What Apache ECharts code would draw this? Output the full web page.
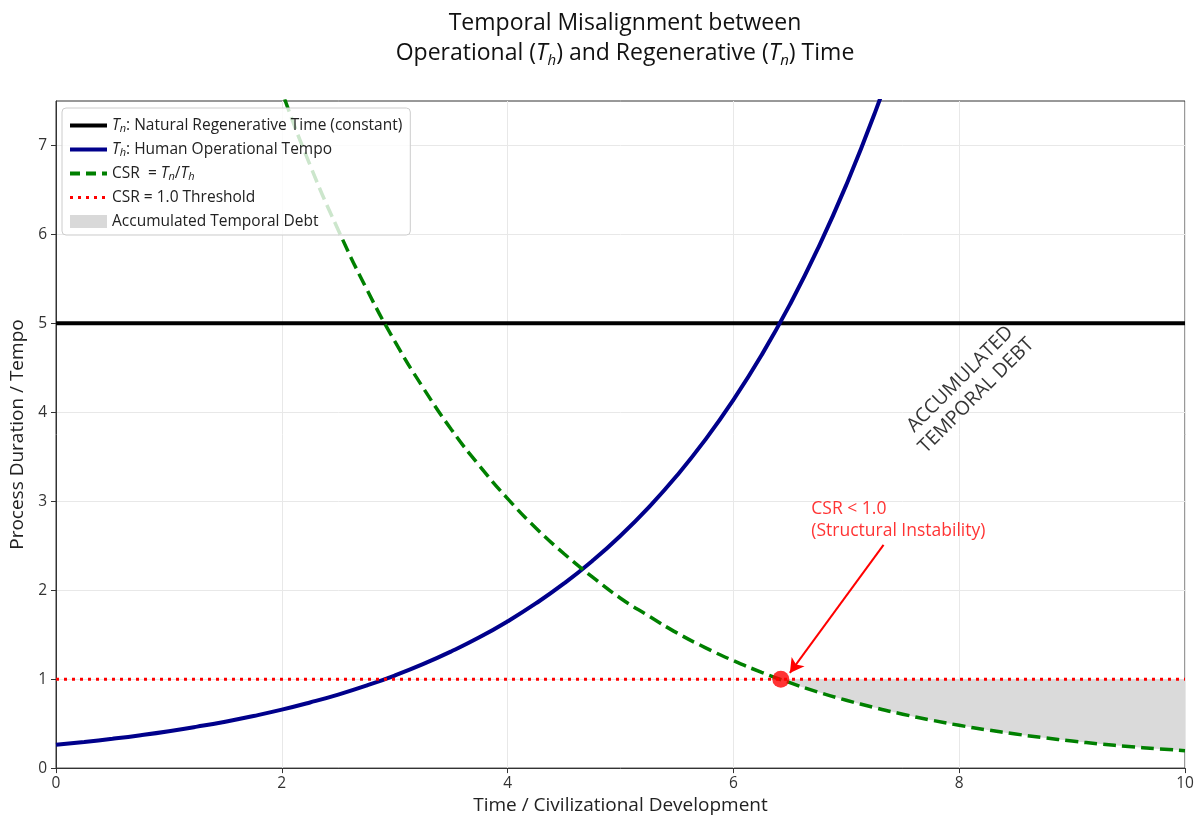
<!DOCTYPE html>
<html>
<head>
<meta charset="utf-8">
<script src="https://cdn.jsdelivr.net/npm/echarts@6/dist/echarts.min.js"></script>
<style>html,body{margin:0;padding:0;background:#fff}#c{width:1198px;height:820px}</style>
</head>
<body>
<div id="c"></div>
<script>
// ---- data ----
const tnValue = 5.0;
const thresholdValue = 1.0;
const xRange = [0, 10];
const thX = [0, 0.25, 0.5, 0.75, 1, 1.25, 1.5, 1.75, 2, 2.25, 2.5, 2.75, 3, 3.25, 3.5, 3.75, 4, 4.25, 4.5, 4.75, 5, 5.25, 5.5, 5.75, 6, 6.25, 6.5, 6.75, 7, 7.25, 7.5, 7.75];
const thValues = [0.262, 0.294, 0.330, 0.370, 0.415, 0.466, 0.522, 0.586, 0.657, 0.738, 0.827, 0.928, 1.041, 1.168, 1.311, 1.470, 1.650, 1.851, 2.076, 2.329, 2.613, 2.932, 3.289, 3.690, 4.140, 4.644, 5.210, 5.845, 6.557, 7.356, 8.253, 9.26];
const csrX = [1.75, 2, 2.25, 2.5, 2.75, 3, 3.25, 3.5, 3.75, 4, 4.25, 4.5, 4.75, 5, 5.25, 5.5, 5.75, 6, 6.25, 6.5, 6.75, 7, 7.25, 7.5, 7.75, 8, 8.25, 8.5, 8.75, 9, 9.25, 9.5, 9.75, 10];
const csrValues = [8.53, 7.61, 6.78, 6.05, 5.39, 4.80, 4.28, 3.81, 3.40, 3.03, 2.70, 2.41, 2.15, 1.91, 1.71, 1.52, 1.355, 1.208, 1.077, 0.960, 0.855, 0.763, 0.680, 0.606, 0.540, 0.481, 0.429, 0.383, 0.341, 0.304, 0.271, 0.243, 0.218, 0.196];
const crossPoint = [6.42, 1.0];
const xTicks = [0, 2, 4, 6, 8, 10];
const yTicks = [0, 1, 2, 3, 4, 5, 6, 7];
const arrowFrom = [7.33, 2.51];
const arrowTo = [6.50, 1.07];
const noteInstability = { pos: [6.69, 2.79], text: 'CSR < 1.0\n(Structural Instability)' };
const noteDebt = { pos: [8.08, 4.28], text: 'ACCUMULATED\nTEMPORAL DEBT' };

const FONT = '"Open Sans", Roboto, sans-serif';
const thData = thX.map((x, i) => [x, thValues[i]]);
const csrData = csrX.map((x, i) => [x, csrValues[i]]);
const debtData = [crossPoint].concat(csrData.filter(d => d[0] > crossPoint[0]));

const legendNames = {
  'Tn': '{i|T}{s|n}: Natural Regenerative Time (constant)',
  'Th': '{i|T}{s|h}: Human Operational Tempo',
  'CSR': 'CSR  = {i|T}{s|n}/{i|T}{s|h}',
  'Threshold': 'CSR = 1.0 Threshold',
  'Debt': 'Accumulated Temporal Debt'
};
const hideSym = { opacity: 0 };

const chart = echarts.init(document.getElementById('c'), null, { renderer: 'canvas' });
chart.setOption({
  animation: false,
  textStyle: { fontFamily: FONT },
  title: {
    text: 'Temporal Misalignment between\nOperational ({i|T}{s|h}) and Regenerative ({i|T}{s|n}) Time',
    left: 620, textAlign: 'center', top: 3,
    textStyle: {
      fontFamily: FONT, fontSize: 23, fontWeight: 'normal', color: '#111', lineHeight: 30,
      rich: {
        i: { fontFamily: FONT, fontSize: 23, fontStyle: 'italic', color: '#111', lineHeight: 30 },
        s: { fontFamily: FONT, fontSize: 15, fontStyle: 'italic', color: '#111', lineHeight: 18, verticalAlign: 'bottom' }
      }
    }
  },
  grid: { left: 56, right: 13, top: 101, bottom: 50, show: true, borderColor: '#333', borderWidth: 1, backgroundColor: 'transparent' },
  legend: {
    left: 62, top: 108, orient: 'vertical',
    data: [
      { name: 'Tn', itemStyle: hideSym, lineStyle: { color: '#000', width: 4, type: 'solid' } },
      { name: 'Th', itemStyle: hideSym, lineStyle: { color: '#00008b', width: 4, type: 'solid' } },
      { name: 'CSR', itemStyle: hideSym, lineStyle: { color: '#008000', width: 4, type: [10, 6] } },
      { name: 'Threshold', itemStyle: hideSym, lineStyle: { color: '#ff0000', width: 3, type: [3, 5] } },
      { name: 'Debt', icon: 'rect', itemStyle: { color: '#d9d9d9' } }
    ],
    itemWidth: 37, itemHeight: 13, itemGap: 7,
    padding: [9, 8, 5, 6],
    backgroundColor: 'rgba(255,255,255,0.8)',
    borderColor: '#cccccc', borderWidth: 1, borderRadius: 4,
    formatter: n => legendNames[n],
    textStyle: {
      fontFamily: FONT, fontSize: 15.5, color: '#222', lineHeight: 17,
      rich: {
        i: { fontFamily: FONT, fontSize: 15.5, fontStyle: 'italic', color: '#222', lineHeight: 17 },
        s: { fontFamily: FONT, fontSize: 11, fontStyle: 'italic', color: '#222', lineHeight: 10, verticalAlign: 'bottom' }
      }
    }
  },
  xAxis: {
    type: 'value', min: xRange[0], max: xRange[1], interval: 2,
    name: 'Time / Civilizational Development', nameLocation: 'middle', nameGap: 26,
    nameTextStyle: { fontFamily: FONT, fontSize: 19, color: '#222' },
    axisLine: { show: true, onZero: false, lineStyle: { color: '#333', width: 1 } },
    axisTick: { show: true, length: 5, lineStyle: { color: '#333' } },
    axisLabel: { fontFamily: FONT, fontSize: 15.5, color: '#333', margin: 7 },
    splitLine: { show: true, lineStyle: { color: '#e8e8e8', width: 1 } }
  },
  yAxis: {
    type: 'value', min: 0, max: 7.5, interval: 1,
    name: 'Process Duration / Tempo', nameLocation: 'middle', nameGap: 29,
    nameTextStyle: { fontFamily: FONT, fontSize: 19, color: '#222' },
    axisLine: { show: true, onZero: false, lineStyle: { color: '#333', width: 1 } },
    axisTick: { show: true, length: 5, lineStyle: { color: '#333' }, customValues: yTicks },
    axisLabel: { fontFamily: FONT, fontSize: 15.5, color: '#333', margin: 9, customValues: yTicks },
    splitLine: { show: true, lineStyle: { color: '#e8e8e8', width: 1 } }
  },
  series: [
    {
      name: 'Debt', type: 'line', data: debtData, smooth: true, symbol: 'none', z: 1,
      lineStyle: { width: 0, opacity: 0 }, itemStyle: { color: '#d9d9d9' },
      areaStyle: { origin: thresholdValue, color: '#dadada', opacity: 1 }
    },
    {
      name: 'Tn', type: 'line', data: [[xRange[0], tnValue], [xRange[1], tnValue]], symbol: 'none', z: 3,
      lineStyle: { color: '#000', width: 4 }, itemStyle: { color: '#000' }
    },
    {
      name: 'Th', type: 'line', data: thData, smooth: true, symbol: 'none', z: 3, clip: true,
      lineStyle: { color: '#00008b', width: 4 }, itemStyle: { color: '#00008b' }
    },
    {
      name: 'CSR', type: 'line', data: csrData, smooth: true, symbol: 'none', z: 3, clip: true,
      lineStyle: { color: '#008000', width: 3.5, type: [13, 6] }, itemStyle: { color: '#008000' }
    },
    {
      name: 'Threshold', type: 'line', data: [[xRange[0], thresholdValue], [xRange[1], thresholdValue]], symbol: 'none', z: 3,
      lineStyle: { color: '#ff0000', width: 3, type: [3, 5] }, itemStyle: { color: '#ff0000' }
    },
    {
      name: 'point', type: 'scatter', data: [crossPoint], symbolSize: 17, z: 5,
      itemStyle: { color: '#ff0000' },
      markLine: {
        silent: true, symbol: ['none', 'arrow'], symbolSize: [12, 14],
        label: { show: false },
        lineStyle: { color: '#ff0000', width: 2, type: 'solid' },
        data: [[{ coord: arrowFrom }, { coord: arrowTo }]]
      }
    },
    {
      name: 'notes', type: 'scatter', symbolSize: 0, silent: true, z: 6,
      data: [
        { value: noteInstability.pos, label: { show: true, position: 'inside', align: 'left', verticalAlign: 'middle', formatter: noteInstability.text, color: '#ff0000', fontSize: 17.5, lineHeight: 22, fontFamily: FONT } },
        { value: noteDebt.pos, label: { show: true, position: 'inside', align: 'center', verticalAlign: 'middle', rotate: 45, formatter: noteDebt.text, color: '#000', fontSize: 19.5, lineHeight: 23, fontFamily: FONT } }
      ]
    }
  ]
});
</script>
</body>
</html>
